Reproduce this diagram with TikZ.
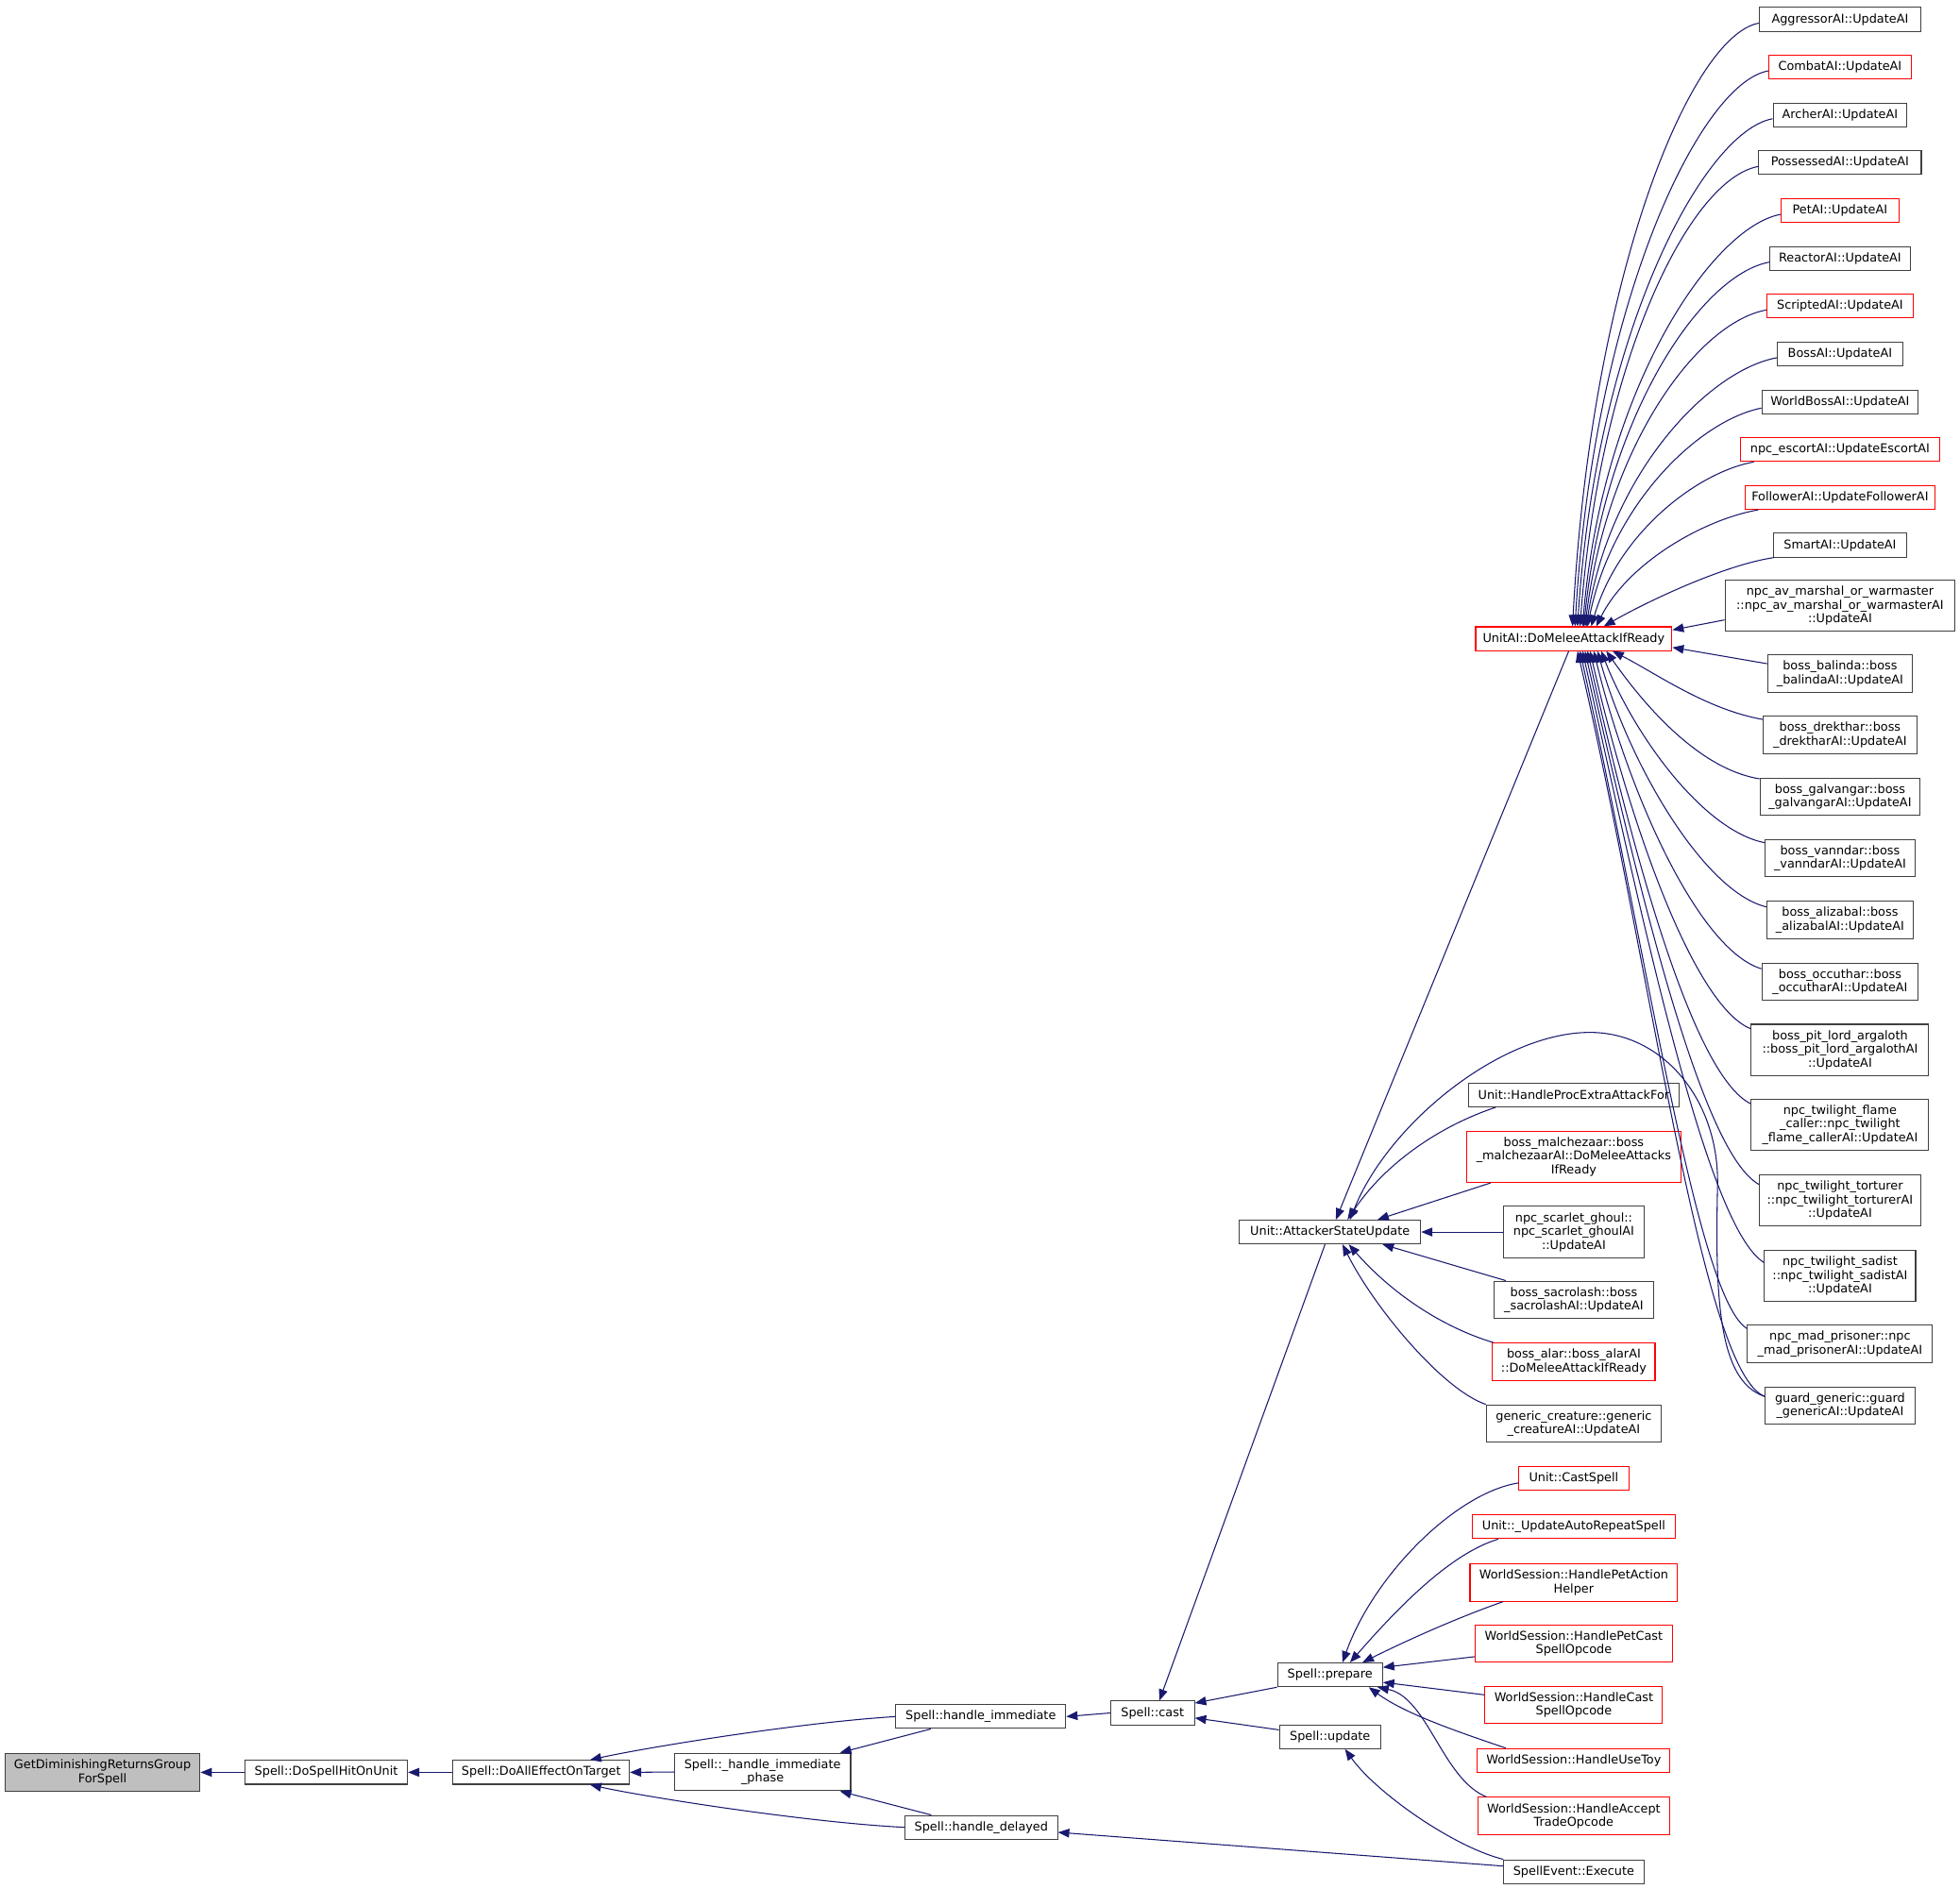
\documentclass[tikz,border=0pt]{standalone}
\usepackage{fontspec}
\setmainfont{DejaVu Sans}
\usetikzlibrary{arrows.meta}
\definecolor{edgeblue}{HTML}{191970}
\definecolor{boxgray}{HTML}{404040}
\definecolor{rootgray}{HTML}{BFBFBF}
\begin{document}
\begin{tikzpicture}[x=1pt,y=-1pt,
  box/.style={draw=boxgray, line width=0.8pt, fill=white, inner sep=0pt, align=center, font=\fontsize{9.7}{11}\selectfont, text=black},
  rbox/.style={box, draw=red},
  wh/.style 2 args={minimum width=#1pt, minimum height=#2pt},
  edge/.style={draw=edgeblue, line width=0.8pt, -{Triangle[length=9pt,width=7pt]}}]
\useasboundingbox (0,0) rectangle (1568,1511);
% left part
\node[box, fill=rootgray, wh={156}{30}] (gdr) at (82,1418) {GetDiminishingReturnsGroup\\ForSpell};
\node[box, wh={130}{19}] (dshou) at (261,1418) {Spell::DoSpellHitOnUnit};
\node[box, wh={141}{19}] (daeot) at (433,1418) {Spell::DoAllEffectOnTarget};
\node[box, wh={141}{30}] (hip) at (610,1417.7) {Spell::\_handle\_immediate\\\_phase};
\node[box, wh={136}{19}] (himm) at (784.6,1373.4) {Spell::handle\_immediate};
\node[box, wh={122}{19}] (hdel) at (785,1462) {Spell::handle\_delayed};
\node[box, wh={67}{19}] (cast) at (922,1370.5) {Spell::cast};
\node[box, wh={145}{19}] (asu) at (1064,985.7) {Unit::AttackerStateUpdate};
\node[box, wh={84}{19}] (prep) at (1064,1340) {Spell::prepare};
\node[box, wh={81}{19}] (upd) at (1064,1389.5) {Spell::update};
% column H
\node[rbox, wh={157}{19}] (domelee) at (1259,511) {UnitAI::DoMeleeAttackIfReady};
\node[box, wh={168}{19}] (hpe) at (1259,876) {Unit::HandleProcExtraAttackFor};
\node[rbox, wh={172}{41}] (malch) at (1259,925.5) {boss\_malchezaar::boss\\\_malchezaarAI::DoMeleeAttacks\\IfReady};
\node[box, wh={113}{41}] (ghoul) at (1259,985.7) {npc\_scarlet\_ghoul::\\npc\_scarlet\_ghoulAI\\::UpdateAI};
\node[box, wh={128}{30}] (sacro) at (1259,1040) {boss\_sacrolash::boss\\\_sacrolashAI::UpdateAI};
\node[rbox, wh={130}{30}] (alar) at (1259,1089.5) {boss\_alar::boss\_alarAI\\::DoMeleeAttackIfReady};
\node[box, wh={140}{30}] (gencr) at (1259,1139) {generic\_creature::generic\\\_creatureAI::UpdateAI};
\node[rbox, wh={88}{19}] (castsp) at (1259,1183) {Unit::CastSpell};
\node[rbox, wh={162}{19}] (uars) at (1259,1221.5) {Unit::\_UpdateAutoRepeatSpell};
\node[rbox, wh={166}{30}] (hpah) at (1259,1266) {WorldSession::HandlePetAction\\Helper};
\node[rbox, wh={158}{30}] (hpcs) at (1259,1315) {WorldSession::HandlePetCast\\SpellOpcode};
\node[rbox, wh={142}{30}] (hcs) at (1259,1364) {WorldSession::HandleCast\\SpellOpcode};
\node[rbox, wh={154}{19}] (hut) at (1259,1408.5) {WorldSession::HandleUseToy};
\node[rbox, wh={153}{30}] (hat) at (1259,1453) {WorldSession::HandleAccept\\TradeOpcode};
\node[box, wh={112}{19}] (sex) at (1259,1497.5) {SpellEvent::Execute};
% column I
\node[box, wh={129}{19}] (aggr) at (1472,15.5) {AggressorAI::UpdateAI};
\node[rbox, wh={114}{19}] (combat) at (1472,53.7) {CombatAI::UpdateAI};
\node[box, wh={107}{19}] (archer) at (1472,92) {ArcherAI::UpdateAI};
\node[box, wh={130}{19}] (possessed) at (1472,130.2) {PossessedAI::UpdateAI};
\node[rbox, wh={94}{19}] (petai) at (1472,168.5) {PetAI::UpdateAI};
\node[box, wh={112}{19}] (reactor) at (1472,206.7) {ReactorAI::UpdateAI};
\node[rbox, wh={117}{19}] (scripted) at (1472,245) {ScriptedAI::UpdateAI};
\node[box, wh={100}{19}] (bossai) at (1472,283.2) {BossAI::UpdateAI};
\node[box, wh={125}{19}] (worldboss) at (1472,321.5) {WorldBossAI::UpdateAI};
\node[rbox, wh={159}{19}] (escort) at (1472,359.7) {npc\_escortAI::UpdateEscortAI};
\node[rbox, wh={152}{19}] (follower) at (1472,398) {FollowerAI::UpdateFollowerAI};
\node[box, wh={107}{19}] (smartai) at (1472,436.2) {SmartAI::UpdateAI};
\node[box, wh={184}{41}] (avm) at (1472,484.5) {npc\_av\_marshal\_or\_warmaster\\::npc\_av\_marshal\_or\_warmasterAI\\::UpdateAI};
\node[box, wh={116}{30}] (balinda) at (1472,539) {boss\_balinda::boss\\\_balindaAI::UpdateAI};
\node[box, wh={123}{30}] (drek) at (1472,588) {boss\_drekthar::boss\\\_drektharAI::UpdateAI};
\node[box, wh={128}{30}] (galv) at (1472,637.5) {boss\_galvangar::boss\\\_galvangarAI::UpdateAI};
\node[box, wh={120}{30}] (vann) at (1472,686.6) {boss\_vanndar::boss\\\_vanndarAI::UpdateAI};
\node[box, wh={117}{30}] (aliz) at (1472,736) {boss\_alizabal::boss\\\_alizabalAI::UpdateAI};
\node[box, wh={125}{30}] (occu) at (1472,785.5) {boss\_occuthar::boss\\\_occutharAI::UpdateAI};
\node[box, wh={142}{41}] (pitl) at (1472,840) {boss\_pit\_lord\_argaloth\\::boss\_pit\_lord\_argalothAI\\::UpdateAI};
\node[box, wh={142}{41}] (flame) at (1472,900) {npc\_twilight\_flame\\\_caller::npc\_twilight\\\_flame\_callerAI::UpdateAI};
\node[box, wh={129}{41}] (tort) at (1472,960.5) {npc\_twilight\_torturer\\::npc\_twilight\_torturerAI\\::UpdateAI};
\node[box, wh={121}{41}] (sadist) at (1472,1021) {npc\_twilight\_sadist\\::npc\_twilight\_sadistAI\\::UpdateAI};
\node[box, wh={148}{30}] (madp) at (1472,1075.4) {npc\_mad\_prisoner::npc\\\_mad\_prisonerAI::UpdateAI};
\node[box, wh={120}{30}] (guard) at (1472,1124.6) {guard\_generic::guard\\\_genericAI::UpdateAI};
% edges left
\draw[edge] (dshou.west) -- (gdr.east);
\draw[edge] (daeot.west) -- (dshou.east);
\draw[edge] (hip.west) -- (daeot.east);
\draw[edge] (cast.west) -- (himm.east);
\draw[edge] ([xshift=-40]himm.south) -- ([xshift=62]hip.north);
\draw[edge] ([xshift=-40]hdel.north) -- ([xshift=62]hip.south);
\draw[edge] (himm.west) .. controls +(-80,5) and +(40,-9) .. ([xshift=39]daeot.north);
\draw[edge] (hdel.west) .. controls +(-80,-4) and +(40,9) .. ([xshift=39]daeot.south);
\draw[edge] ([yshift=4.5]sex.west) -- ([yshift=-4]hdel.east);
\draw[edge] (sex.north west) .. controls +(-40,-10) and +(25,35) .. ([xshift=12]upd.south);
\draw[edge] (prep.south west) -- ([yshift=-2]cast.north east);
\draw[edge] ([yshift=5.5]upd.west) -- ([yshift=-4]cast.east);
\draw[edge] ([xshift=-4]asu.south) -- ([xshift=5.5]cast.north);
\draw[edge] ([xshift=-4]domelee.south) -- ([xshift=4.7]asu.north);
% into AttackerStateUpdate
\draw[edge] ([yshift=-8]guard.north west) .. controls (1375,1105) and (1372,1040) .. (1374,950) .. controls (1376,880) and (1330,826) .. (1272,826) .. controls (1200,826) and (1110,900) .. ([xshift=16]asu.north);
\draw[edge] ([xshift=22]hpe.south west) .. controls +(-45,15) and +(30,-45) .. ([xshift=14]asu.north);
\draw[edge] ([xshift=20]malch.south west) -- ([xshift=38]asu.north);
\draw[edge] (ghoul.west) -- (asu.east);
\draw[edge] ([xshift=10]sacro.north west) -- ([xshift=42]asu.south);
\draw[edge] ([xshift=1]alar.north west) .. controls +(-40,-12) and +(35,40) .. ([xshift=15]asu.south);
\draw[edge] (gencr.north west) .. controls +(-35,-12) and +(25,50) .. ([xshift=10]asu.south);
% into prepare
\draw[edge] ([yshift=-3.5]castsp.west) .. controls +(-50,8) and +(25,-70) .. ([xshift=10]prep.north);
\draw[edge] ([xshift=21]uars.south west) .. controls +(-40,12) and +(35,-40) .. ([xshift=16]prep.north);
\draw[edge] ([xshift=27]hpah.south west) .. controls +(-40,14) and +(30,-15) .. ([xshift=26]prep.north);
\draw[edge] ([yshift=-10.5]hpcs.west) -- ([yshift=6]prep.east);
\draw[edge] ([yshift=8]hcs.west) -- ([yshift=-6]prep.east);
\draw[edge] ([xshift=23]hut.north west) .. controls +(-35,-12) and +(30,22) .. ([xshift=31]prep.south);
\draw[edge] ([xshift=7]hat.north west) .. controls +(-35,-14) and +(40,8) .. ([xshift=38]prep.south);
% into DoMeleeAttackIfReady, upper group
\draw[edge] ([yshift=-3]aggr.west) .. controls +(-55,10) and +(15,-280) .. ([xshift=-1]domelee.north);
\draw[edge] ([yshift=-3]combat.west) .. controls +(-55,10) and +(15,-258) .. ([xshift=1]domelee.north);
\draw[edge] ([yshift=-3]archer.west) .. controls +(-55,10) and +(15,-236) .. ([xshift=3]domelee.north);
\draw[edge] ([yshift=-3]possessed.west) .. controls +(-55,10) and +(16,-213) .. ([xshift=5]domelee.north);
\draw[edge] ([yshift=-3]petai.west) .. controls +(-55,10) and +(16,-190) .. ([xshift=7]domelee.north);
\draw[edge] ([yshift=-3]reactor.west) .. controls +(-55,10) and +(17,-168) .. ([xshift=8]domelee.north);
\draw[edge] ([yshift=-3]scripted.west) .. controls +(-55,10) and +(18,-145) .. ([xshift=9]domelee.north);
\draw[edge] ([yshift=-3]bossai.west) .. controls +(-55,10) and +(19,-122) .. ([xshift=10]domelee.north);
\draw[edge] ([yshift=-5]worldboss.west) .. controls +(-50,10) and +(20,-98) .. ([xshift=11]domelee.north);
\draw[edge] ([xshift=11]escort.south west) .. controls +(-45,8) and +(22,-75) .. ([xshift=14]domelee.north);
\draw[edge] ([xshift=11]follower.south west) .. controls +(-45,8) and +(25,-50) .. ([xshift=18]domelee.north);
\draw[edge] ([xshift=1]smartai.south west) .. controls +(-40,6) and +(35,-20) .. ([xshift=24]domelee.north);
\draw[edge] ([yshift=-11.5]avm.west) -- ([yshift=7]domelee.east);
\draw[edge] ([yshift=8]balinda.west) -- ([yshift=-7]domelee.east);
% lower group
\draw[edge] ([yshift=-3]drek.north west) .. controls +(-45,-8) and +(35,18) .. ([xshift=31]domelee.south);
\draw[edge] ([yshift=-1]galv.north west) .. controls +(-50,-8) and +(28,40) .. ([xshift=26]domelee.south);
\draw[edge] ([yshift=-3]vann.north west) .. controls +(-50,-10) and +(25,65) .. ([xshift=22]domelee.south);
\draw[edge] ([yshift=-5]aliz.north west) .. controls +(-50,-12) and +(25,90) .. ([xshift=19]domelee.south);
\draw[edge] ([yshift=-5]occu.north west) .. controls +(-50,-15) and +(28,115) .. ([xshift=16]domelee.south);
\draw[edge] ([yshift=-4]pitl.north west) .. controls +(-45,-18) and +(32,140) .. ([xshift=13]domelee.south);
\draw[edge] ([yshift=-4]flame.north west) .. controls +(-45,-22) and +(38,170) .. ([xshift=11]domelee.south);
\draw[edge] ([yshift=-8]tort.north west) .. controls +(-45,-25) and +(45,200) .. ([xshift=9]domelee.south);
\draw[edge] ([yshift=-10]sadist.north west) .. controls +(-45,-28) and +(50,225) .. ([xshift=7]domelee.south);
\draw[edge] ([yshift=-3]madp.north west) .. controls +(-40,-25) and +(55,250) .. ([xshift=5]domelee.south);
\draw[edge] ([yshift=-8]guard.north west) .. controls +(-50,-20) and +(60,260) .. ([xshift=3]domelee.south);
\end{tikzpicture}
\end{document}
